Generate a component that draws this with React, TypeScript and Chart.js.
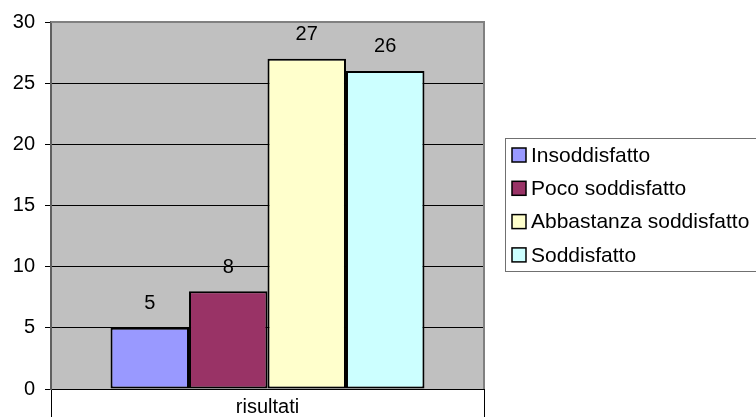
import React, { useEffect, useRef } from "react";
import { Chart, registerables } from "chart.js";

Chart.register(...registerables);

const categories = ["risultati"];
const seriesNames = ["Insoddisfatto", "Poco soddisfatto", "Abbastanza soddisfatto", "Soddisfatto"];
const seriesValues = [5, 8, 27, 26];
const seriesColors = ["#9999FF", "#993366", "#FFFFCC", "#CCFFFF"];
const yMin = 0;
const yMax = 30;
const yStep = 5;

const FONT = "'Liberation Sans', Arial, sans-serif";

const plotBgPlugin = {
  id: "plotBg",
  beforeDraw(chart: any) {
    const { ctx, chartArea } = chart;
    ctx.save();
    ctx.fillStyle = "#C0C0C0";
    ctx.fillRect(chartArea.left, chartArea.top, chartArea.right - chartArea.left, chartArea.bottom - chartArea.top);
    ctx.restore();
  },
  afterDraw(chart: any) {
    const { ctx, chartArea } = chart;
    ctx.save();
    ctx.strokeStyle = "#808080";
    ctx.lineWidth = 2;
    ctx.beginPath();
    ctx.moveTo(chartArea.left, chartArea.top);
    ctx.lineTo(chartArea.right, chartArea.top);
    ctx.lineTo(chartArea.right, chartArea.bottom);
    ctx.stroke();
    ctx.restore();
  },
};

const valueLabelPlugin = {
  id: "valueLabels",
  afterDatasetsDraw(chart: any) {
    const { ctx } = chart;
    ctx.save();
    ctx.font = `20px ${FONT}`;
    ctx.fillStyle = "#000";
    ctx.textAlign = "center";
    ctx.textBaseline = "middle";
    chart.data.datasets.forEach((ds: any, i: number) => {
      const meta = chart.getDatasetMeta(i);
      meta.data.forEach((el: any, j: number) => {
        ctx.fillText(String(ds.data[j]), el.x, el.y - 24);
      });
    });
    ctx.restore();
  },
};

const legendPlugin = {
  id: "customLegend",
  afterDraw(chart: any) {
    const { ctx } = chart;
    ctx.save();
    ctx.strokeStyle = "#707070";
    ctx.lineWidth = 1;
    ctx.strokeRect(505.5, 138.5, 270, 133);
    ctx.font = `21px ${FONT}`;
    ctx.textAlign = "left";
    ctx.textBaseline = "middle";
    chart.data.datasets.forEach((ds: any, i: number) => {
      const cy = 155 + i * 33.3;
      ctx.fillStyle = ds.backgroundColor;
      ctx.fillRect(512, cy - 7, 14, 14);
      ctx.strokeStyle = "#000";
      ctx.lineWidth = 1.5;
      ctx.strokeRect(512, cy - 7, 14, 14);
      ctx.fillStyle = "#000";
      ctx.fillText(ds.label, 531, cy + 1);
    });
    ctx.restore();
  },
};

export default function App() {
  const canvasRef = useRef<HTMLCanvasElement | null>(null);

  useEffect(() => {
    if (!canvasRef.current) return;
    const chart = new Chart(canvasRef.current, {
      type: "bar",
      data: {
        labels: categories,
        datasets: seriesNames.map((name, i) => ({
          label: name,
          data: [seriesValues[i]],
          backgroundColor: seriesColors[i],
          borderColor: "#000",
          borderWidth: 2,
          borderSkipped: false,
          categoryPercentage: 0.725,
          barPercentage: 1,
        })),
      },
      options: {
        animation: false,
        responsive: true,
        maintainAspectRatio: false,
        layout: { padding: { left: 0, top: 20, right: 272, bottom: 0 } },
        plugins: {
          legend: { display: false },
          tooltip: { enabled: false },
        },
        scales: {
          x: {
            afterFit(scale: any) {
              scale.height = 28;
            },
            grid: {
              offset: true,
              drawOnChartArea: false,
              drawTicks: true,
              tickLength: 28,
              color: "#000",
              lineWidth: 1,
            },
            border: { color: "#000", width: 1 },
            ticks: {
              color: "#000",
              font: { family: FONT, size: 20 },
              padding: -22,
              maxRotation: 0,
            },
          },
          y: {
            min: yMin,
            max: yMax,
            afterFit(scale: any) {
              scale.width = 51;
            },
            ticks: {
              stepSize: yStep,
              color: "#000",
              font: { family: FONT, size: 20 },
              padding: 10,
            },
            grid: {
              color: (c: any) => (c.tick && c.tick.value === yMax ? "rgba(0,0,0,0)" : "#000"),
              tickColor: "#000",
              tickLength: 6,
              lineWidth: 1,
            },
            border: { color: "#606060", width: 2 },
          },
        },
      },
      plugins: [plotBgPlugin, valueLabelPlugin, legendPlugin],
    });
    return () => chart.destroy();
  }, []);

  return (
    <div style={{ position: "fixed", left: 0, top: 0, width: 756, height: 417, background: "#fff" }}>
      <canvas ref={canvasRef} />
    </div>
  );
}
